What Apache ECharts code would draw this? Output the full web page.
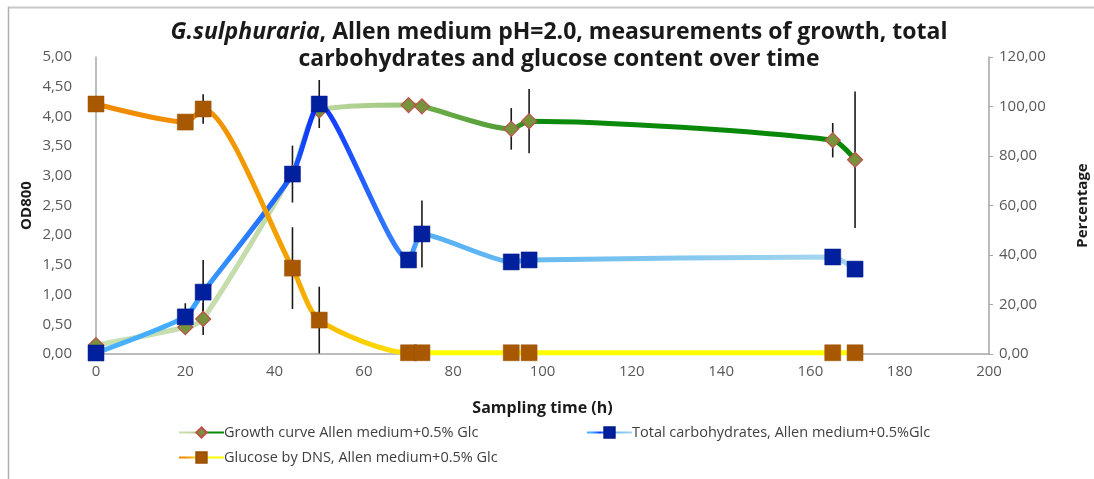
<!DOCTYPE html>
<html>
<head>
<meta charset="utf-8">
<script src="https://cdn.jsdelivr.net/npm/echarts@6/dist/echarts.min.js"></script>
<style>
html,body{margin:0;padding:0;background:#fff;}
#c{width:1094px;height:479px;}
</style>
</head>
<body>
<div id="c"></div>
<script>
// ---- data ----
const hours = [0, 20, 24, 44, 50, 70, 73, 93, 97, 165, 170];
const growthOD = [0.15, 0.45, 0.59, 3.05, 4.1, 4.19, 4.17, 3.79, 3.92, 3.6, 3.27];
const growthErr = [0, 0.1, 0.27, 0, 0, 0, 0, 0.35, 0.54, 0.29, 1.15];
const carbsPct = [0.4, 15, 25, 72.7, 101, 38, 48.5, 37.2, 38, 39.2, 34.3];
const carbsErr = [0, 5.5, 13, 11.5, 9.7, 0, 13.5, 0, 0, 0, 0];
const glucosePct = [101, 93.7, 99, 34.7, 13.7, 0.5, 0.5, 0.5, 0.5, 0.5, 0.5];
const glucoseErr = [0, 0, 6, 16.5, 13.5, 0, 0, 0, 0, 0, 0];
const xTicks = [0, 20, 40, 60, 80, 100, 120, 140, 160, 180, 200];
const seriesNames = [
  'Growth curve Allen medium+0.5% Glc',
  'Total carbohydrates, Allen medium+0.5%Glc',
  'Glucose by DNS, Allen medium+0.5% Glc'
];

const FONT = '"Open Sans", Lato, sans-serif';
const chart = echarts.init(document.getElementById('c'), null, {renderer: 'canvas'});

function pts(vals) { return hours.map((h, i) => [h, vals[i]]); }
function errs(vals, e) {
  const out = [];
  hours.forEach((h, i) => { if (e[i] > 0) out.push([h, Math.max(0, vals[i] - e[i]), vals[i] + e[i]]); });
  return out;
}
function grad(stops) {
  return new echarts.graphic.LinearGradient(0, 0, 1, 0, stops.map(s => ({offset: s[0], color: s[1]})));
}
function errSeries(data, yIdx, color) {
  return {
    type: 'custom', yAxisIndex: yIdx, z: 1, silent: true,
    data: data,
    renderItem: function (params, api) {
      const p1 = api.coord([api.value(0), api.value(1)]);
      const p2 = api.coord([api.value(0), api.value(2)]);
      return {type: 'line', shape: {x1: p1[0], y1: p1[1], x2: p2[0], y2: p2[1]},
              style: {stroke: color, lineWidth: 1.6}};
    }
  };
}
const fmt = v => v.toFixed(2).replace('.', ',');

const legendBase = {
  itemWidth: 45, itemHeight: 13, itemGap: 0,
  textStyle: {fontFamily: FONT, fontSize: 14.5, color: '#404040', padding: [0, 0, 0, -5]}
};

chart.setOption({
  animation: false,
  title: {
    text: '{i|G.sulphuraria}{b|, Allen medium pH=2.0, measurements of growth, total}\n{b|carbohydrates and glucose content over time}',
    left: 554, top: 14, textAlign: 'center',
    textStyle: {
      rich: {
        i: {fontFamily: FONT, fontSize: 23, fontWeight: 'bold', fontStyle: 'italic', color: '#1a1a1a', lineHeight: 27},
        b: {fontFamily: FONT, fontSize: 23, fontWeight: 'bold', color: '#1a1a1a', lineHeight: 27}
      }
    }
  },
  graphic: [
    {type: 'line', shape: {x1: 8, y1: 7.5, x2: 1094, y2: 7.5}, style: {stroke: '#c8c8c8', lineWidth: 2}},
    {type: 'line', shape: {x1: 8.5, y1: 7, x2: 8.5, y2: 479}, style: {stroke: '#b0b0b0', lineWidth: 1.5}}
  ],
  legend: [
    Object.assign({left: 173, top: 420, data: [seriesNames[0]]}, legendBase),
    Object.assign({left: 581, top: 420, data: [seriesNames[1]]}, legendBase),
    Object.assign({left: 173, top: 445, data: [seriesNames[2]]}, legendBase)
  ],
  grid: {left: 96, right: 105, top: 57, bottom: 125, containLabel: false, outerBoundsMode: 'none'},
  xAxis: {
    type: 'value', min: 0, max: 200, interval: 20,
    name: 'Sampling time (h)', nameLocation: 'middle', nameGap: 46,
    nameTextStyle: {fontFamily: FONT, fontSize: 16, fontWeight: 'bold', color: '#1a1a1a'},
    axisLine: {lineStyle: {color: '#a6a6a6', width: 1.5}},
    axisTick: {show: false},
    splitLine: {show: false},
    axisLabel: {fontFamily: FONT, fontSize: 15, color: '#595959', margin: 10,
      formatter: v => xTicks.includes(v) ? String(v) : ''}
  },
  yAxis: [
    {
      type: 'value', min: 0, max: 5, interval: 0.5,
      name: 'OD800', nameLocation: 'middle', nameGap: 62, nameRotate: 90, nameMoveOverlap: false,
      nameTextStyle: {fontFamily: FONT, fontSize: 15, fontWeight: 'bold', color: '#1a1a1a'},
      axisLine: {show: true, lineStyle: {color: '#a6a6a6', width: 1.5}},
      axisTick: {show: false},
      splitLine: {show: false},
      axisLabel: {fontFamily: FONT, fontSize: 15, color: '#595959', margin: 24, formatter: fmt}
    },
    {
      type: 'value', min: 0, max: 120, interval: 20, position: 'right',
      name: 'Percentage', nameLocation: 'middle', nameGap: 86, nameRotate: 90,
      nameTextStyle: {fontFamily: FONT, fontSize: 15, fontWeight: 'bold', color: '#1a1a1a'},
      axisLine: {show: true, lineStyle: {color: '#a6a6a6', width: 1.5}},
      axisTick: {show: true, inside: false, length: 4, lineStyle: {color: '#a6a6a6'}},
      splitLine: {show: false},
      axisLabel: {fontFamily: FONT, fontSize: 15, color: '#595959', margin: 10, formatter: fmt}
    }
  ],
  series: [
    errSeries(errs(growthOD, growthErr), 0, '#1a1a1a'),
    errSeries(errs(carbsPct, carbsErr), 1, '#1a1a1a'),
    errSeries(errs(glucosePct, glucoseErr), 1, '#1a1a1a'),
    {
      name: seriesNames[0], type: 'line', yAxisIndex: 0, z: 3, smooth: 0.25,
      data: pts(growthOD),
      symbol: 'diamond', symbolSize: 15,
      itemStyle: {color: '#77933c', borderColor: '#c0504d', borderWidth: 1.2},
      lineStyle: {width: 5, color: grad([[0, '#c9e0b2'], [0.26, '#c3dba8'], [0.3, '#bcd7a0'], [0.41, '#9cc67a'], [0.43, '#6eae4c'], [0.55, '#4f9b33'], [0.57, '#0c8a0c'], [1, '#078807']])}
    },
    {
      name: seriesNames[1], type: 'line', yAxisIndex: 1, z: 4, smooth: 0.2,
      data: pts(carbsPct),
      symbol: 'rect', symbolSize: 16,
      itemStyle: {color: '#00209e', borderColor: '#001a8a', borderWidth: 0.5},
      lineStyle: {width: 5, color: grad([[0, '#4db3ff'], [0.12, '#40aaff'], [0.26, '#1a5cff'], [0.29, '#0a2eff'], [0.41, '#3a8aff'], [0.43, '#55b0f5'], [0.57, '#66baf0'], [0.97, '#a5d6ee'], [1, '#a5d6ee']])}
    },
    {
      name: seriesNames[2], type: 'line', yAxisIndex: 1, z: 5, smooth: 0.25,
      data: pts(glucosePct),
      symbol: 'rect', symbolSize: 16,
      itemStyle: {color: '#a85800', borderColor: '#9a5000', borderWidth: 0.5},
      lineStyle: {width: 5, color: grad([[0, '#f08a00'], [0.14, '#f09000'], [0.26, '#f4a400'], [0.29, '#f6b800'], [0.41, '#ffe400'], [0.43, '#ffff00'], [1, '#ffff00']])}
    }
  ]
});
</script>
</body>
</html>
